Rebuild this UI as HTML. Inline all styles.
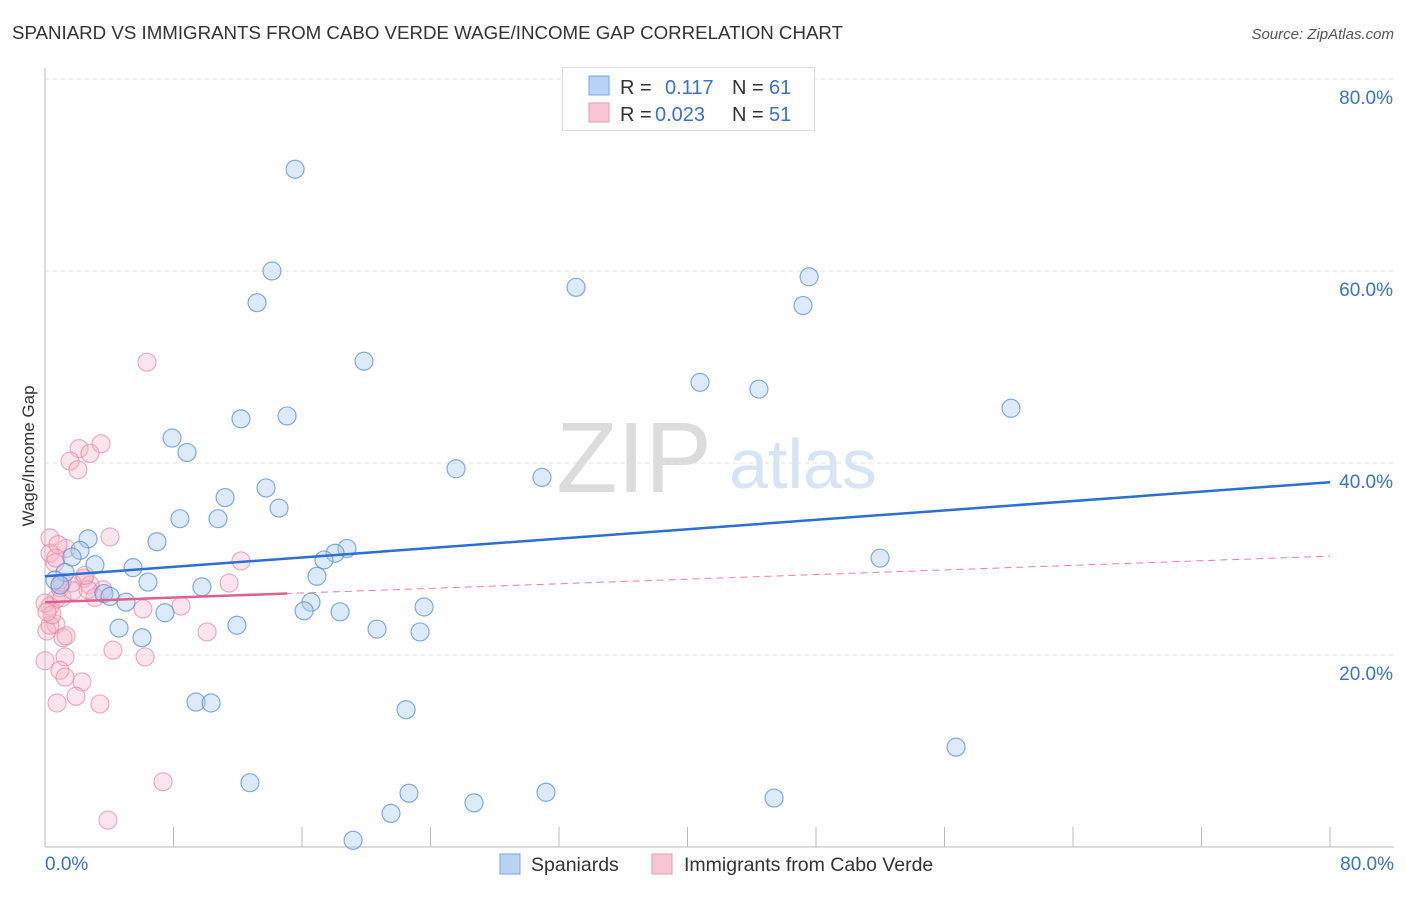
<!DOCTYPE html>
<html><head><meta charset="utf-8">
<style>
body{margin:0;background:#fff;font-family:"Liberation Sans",sans-serif;}
svg text{font-family:"Liberation Sans",sans-serif;}
</style></head>
<body>
<svg id="chart" width="1406" height="892" viewBox="0 0 1406 892" xmlns="http://www.w3.org/2000/svg">
<text x="12" y="39" font-size="18.8" fill="#333" textLength="831" lengthAdjust="spacingAndGlyphs">SPANIARD VS IMMIGRANTS FROM CABO VERDE WAGE/INCOME GAP CORRELATION CHART</text>
<text x="1394" y="39" font-size="15" fill="#555" text-anchor="end" font-style="italic">Source: ZipAtlas.com</text>
<text transform="translate(34,456) rotate(-90)" font-size="17" fill="#333" text-anchor="middle">Wage/Income Gap</text>
<g>
<text x="634" y="492" font-size="100" fill="#dcdcdc" font-family="Liberation Serif" text-anchor="middle">ZIP</text>
<text x="803" y="488" font-size="70" fill="#d6e4f5" text-anchor="middle">atlas</text>
</g>
<g id="grid"></g>
<g id="axes"></g>
<g id="marks"></g>
<g>
<rect x="562.5" y="67.5" width="252" height="63" fill="#fff" stroke="#ddd"/>
<rect x="589" y="76" width="20" height="19" fill="#b8d3f5" stroke="#7aa6e0"/>
<text x="620" y="94" font-size="20" fill="#333">R = </text>
<text x="665" y="94" font-size="20" fill="#3b6fd0">0.117</text>
<text x="732" y="94" font-size="20" fill="#333">N = </text>
<text x="769" y="94" font-size="20" fill="#3b6fd0">61</text>
<rect x="589" y="103" width="20" height="19" fill="#f9c6d4" stroke="#eb9ab2"/>
<text x="620" y="121" font-size="20" fill="#333">R = </text>
<text x="655" y="121" font-size="20" fill="#3b6fd0">0.023</text>
<text x="732" y="121" font-size="20" fill="#333">N = </text>
<text x="769" y="121" font-size="20" fill="#3b6fd0">51</text>
</g>
<g>
<rect x="500" y="854" width="20" height="20" fill="#b8d3f5" stroke="#7aa6e0"/>
<text x="531" y="871" font-size="19.5" fill="#333">Spaniards</text>
<rect x="652" y="854" width="20" height="20" fill="#f9c6d4" stroke="#eb9ab2"/>
<text x="684" y="871" font-size="19.5" fill="#333">Immigrants from Cabo Verde</text>
</g>
</svg>
<script>
const xTicks=[0,8,16,24,32,40,48,56,64,72,80];
const yTicks=[20,40,60,80];
const yTickLabels=["20.0%","40.0%","60.0%","80.0%"];
const blueX=[15.57,14.13,13.20,33.06,47.57,47.19,19.86,40.78,44.45,60.14,12.20,15.07,7.91,8.84,25.59,30.94,13.76,11.21,14.57,8.40,10.77,2.68,6.97,2.18,1.68,18.80,18.06,17.37,51.99,3.11,5.48,16.93,1.25,0.62,6.41,9.77,0.93,3.67,4.05,5.04,16.56,16.13,7.47,18.37,23.60,11.95,20.67,23.35,4.61,6.04,9.40,10.34,22.48,56.72,12.76,22.66,31.19,26.71,45.39,21.54,19.18];
const blueY=[70.6,60.0,56.7,58.3,59.4,56.4,50.6,48.4,47.7,45.7,44.6,44.9,42.6,41.1,39.4,38.5,37.4,36.4,35.3,34.2,34.2,32.1,31.8,30.9,30.2,31.1,30.6,29.9,30.1,29.4,29.1,28.2,28.6,27.8,27.6,27.1,27.3,26.4,26.1,25.5,25.5,24.6,24.4,24.5,25.0,23.1,22.7,22.4,22.8,21.8,15.1,15.0,14.3,10.4,6.7,5.6,5.7,4.6,5.1,3.5,0.7];
const pinkX=[6.35,3.49,2.12,2.80,1.56,2.05,4.05,0.31,1.31,12.20,0.31,0.62,2.43,11.46,3.61,1.68,2.80,3.11,0.68,0.93,0.31,0,8.47,6.10,1.06,0.68,0.12,1.12,1.31,10.09,4.23,6.23,1.25,0,0.93,1.25,2.30,1.93,0.75,3.42,7.35,3.92,0.31,0.44,1.74,2.68,1.06,0.12,0.81,2.49,0.68];
const pinkY=[50.5,42.0,41.5,41.0,40.2,39.3,32.3,32.2,31.1,29.8,30.6,29.6,28.0,27.5,26.8,27.5,27.3,26.0,25.8,27.0,25.1,25.4,25.1,24.8,26.0,23.2,22.5,21.8,22.0,22.4,20.5,19.8,19.8,19.4,18.4,17.7,17.2,15.7,15.0,14.9,6.8,2.8,23.1,24.2,26.7,26.8,27.6,24.5,31.5,28.3,30.1];
const blueTrend=[28.2,38.0];
const pinkTrend=[25.5,30.3];
const pinkSolidEnd=15.07;

const X0=45,X1=1330,Y0=847,Y80=79;
const sx=v=>X0+(X1-X0)*v/80;
const sy=v=>Y0-(Y0-Y80)*v/80;
const NS="http://www.w3.org/2000/svg";
function mk(tag,attrs,parent){const e=document.createElementNS(NS,tag);for(const k in attrs)e.setAttribute(k,attrs[k]);parent.appendChild(e);return e;}
const grid=document.getElementById('grid'),axes=document.getElementById('axes'),marks=document.getElementById('marks');
yTicks.forEach((t,i)=>{
  const g=mk('line',{x1:X0,x2:1394,y1:sy(t),y2:sy(t),stroke:'#e2e2e2','stroke-dasharray':'4,4'},grid);
  
  
  const l=mk('text',{x:1393,y:sy(t)+25,'font-size':19,fill:'#3b6fd0','text-anchor':'end'},axes);
  l.textContent=yTickLabels[i];
  
  
});
const ax=mk('line',{x1:X0,x2:X0,y1:68,y2:Y0,stroke:'#bbb'},axes);


const bx=mk('line',{x1:X0,x2:1394,y1:Y0,y2:Y0,stroke:'#bbb'},axes);


xTicks.forEach(t=>{
  const tk=mk('line',{x1:sx(t),x2:sx(t),y1:Y0-20,y2:Y0,stroke:'#bbb'},axes);
  
  
});
const xl=mk('text',{x:45,y:870,'font-size':19,fill:'#3b6fd0'},axes);xl.textContent=xTicks[0].toFixed(1)+'%';


const xr=mk('text',{x:1394,y:870,'font-size':19,fill:'#3b6fd0','text-anchor':'end'},axes);xr.textContent=xTicks[xTicks.length-1].toFixed(1)+'%';



pinkX.forEach((v,i)=>{
  const c=mk('circle',{cx:sx(v),cy:sy(pinkY[i]),r:9,fill:'rgba(246,180,200,0.35)',stroke:'rgba(232,130,162,0.65)','stroke-width':1.2},marks);
  
  
});
blueX.forEach((v,i)=>{
  const c=mk('circle',{cx:sx(v),cy:sy(blueY[i]),r:9,fill:'rgba(170,202,242,0.4)',stroke:'rgba(80,138,218,0.7)','stroke-width':1.2},marks);
  
  
});
const pd=mk('line',{x1:sx(0),y1:sy(pinkTrend[0]),x2:sx(80),y2:sy(pinkTrend[1]),stroke:'#e87ea0','stroke-width':1,'stroke-dasharray':'7,5'},marks);


const pe=pinkTrend[0]+(pinkTrend[1]-pinkTrend[0])*pinkSolidEnd/80;
const ps=mk('line',{x1:sx(0),y1:sy(pinkTrend[0]),x2:sx(pinkSolidEnd),y2:sy(pe),stroke:'#e0608c','stroke-width':2.5},marks);


const bl=mk('line',{x1:sx(0),y1:sy(blueTrend[0]),x2:sx(80),y2:sy(blueTrend[1]),stroke:'#2a6fd6','stroke-width':2.5},marks);


</script>
</body></html>
